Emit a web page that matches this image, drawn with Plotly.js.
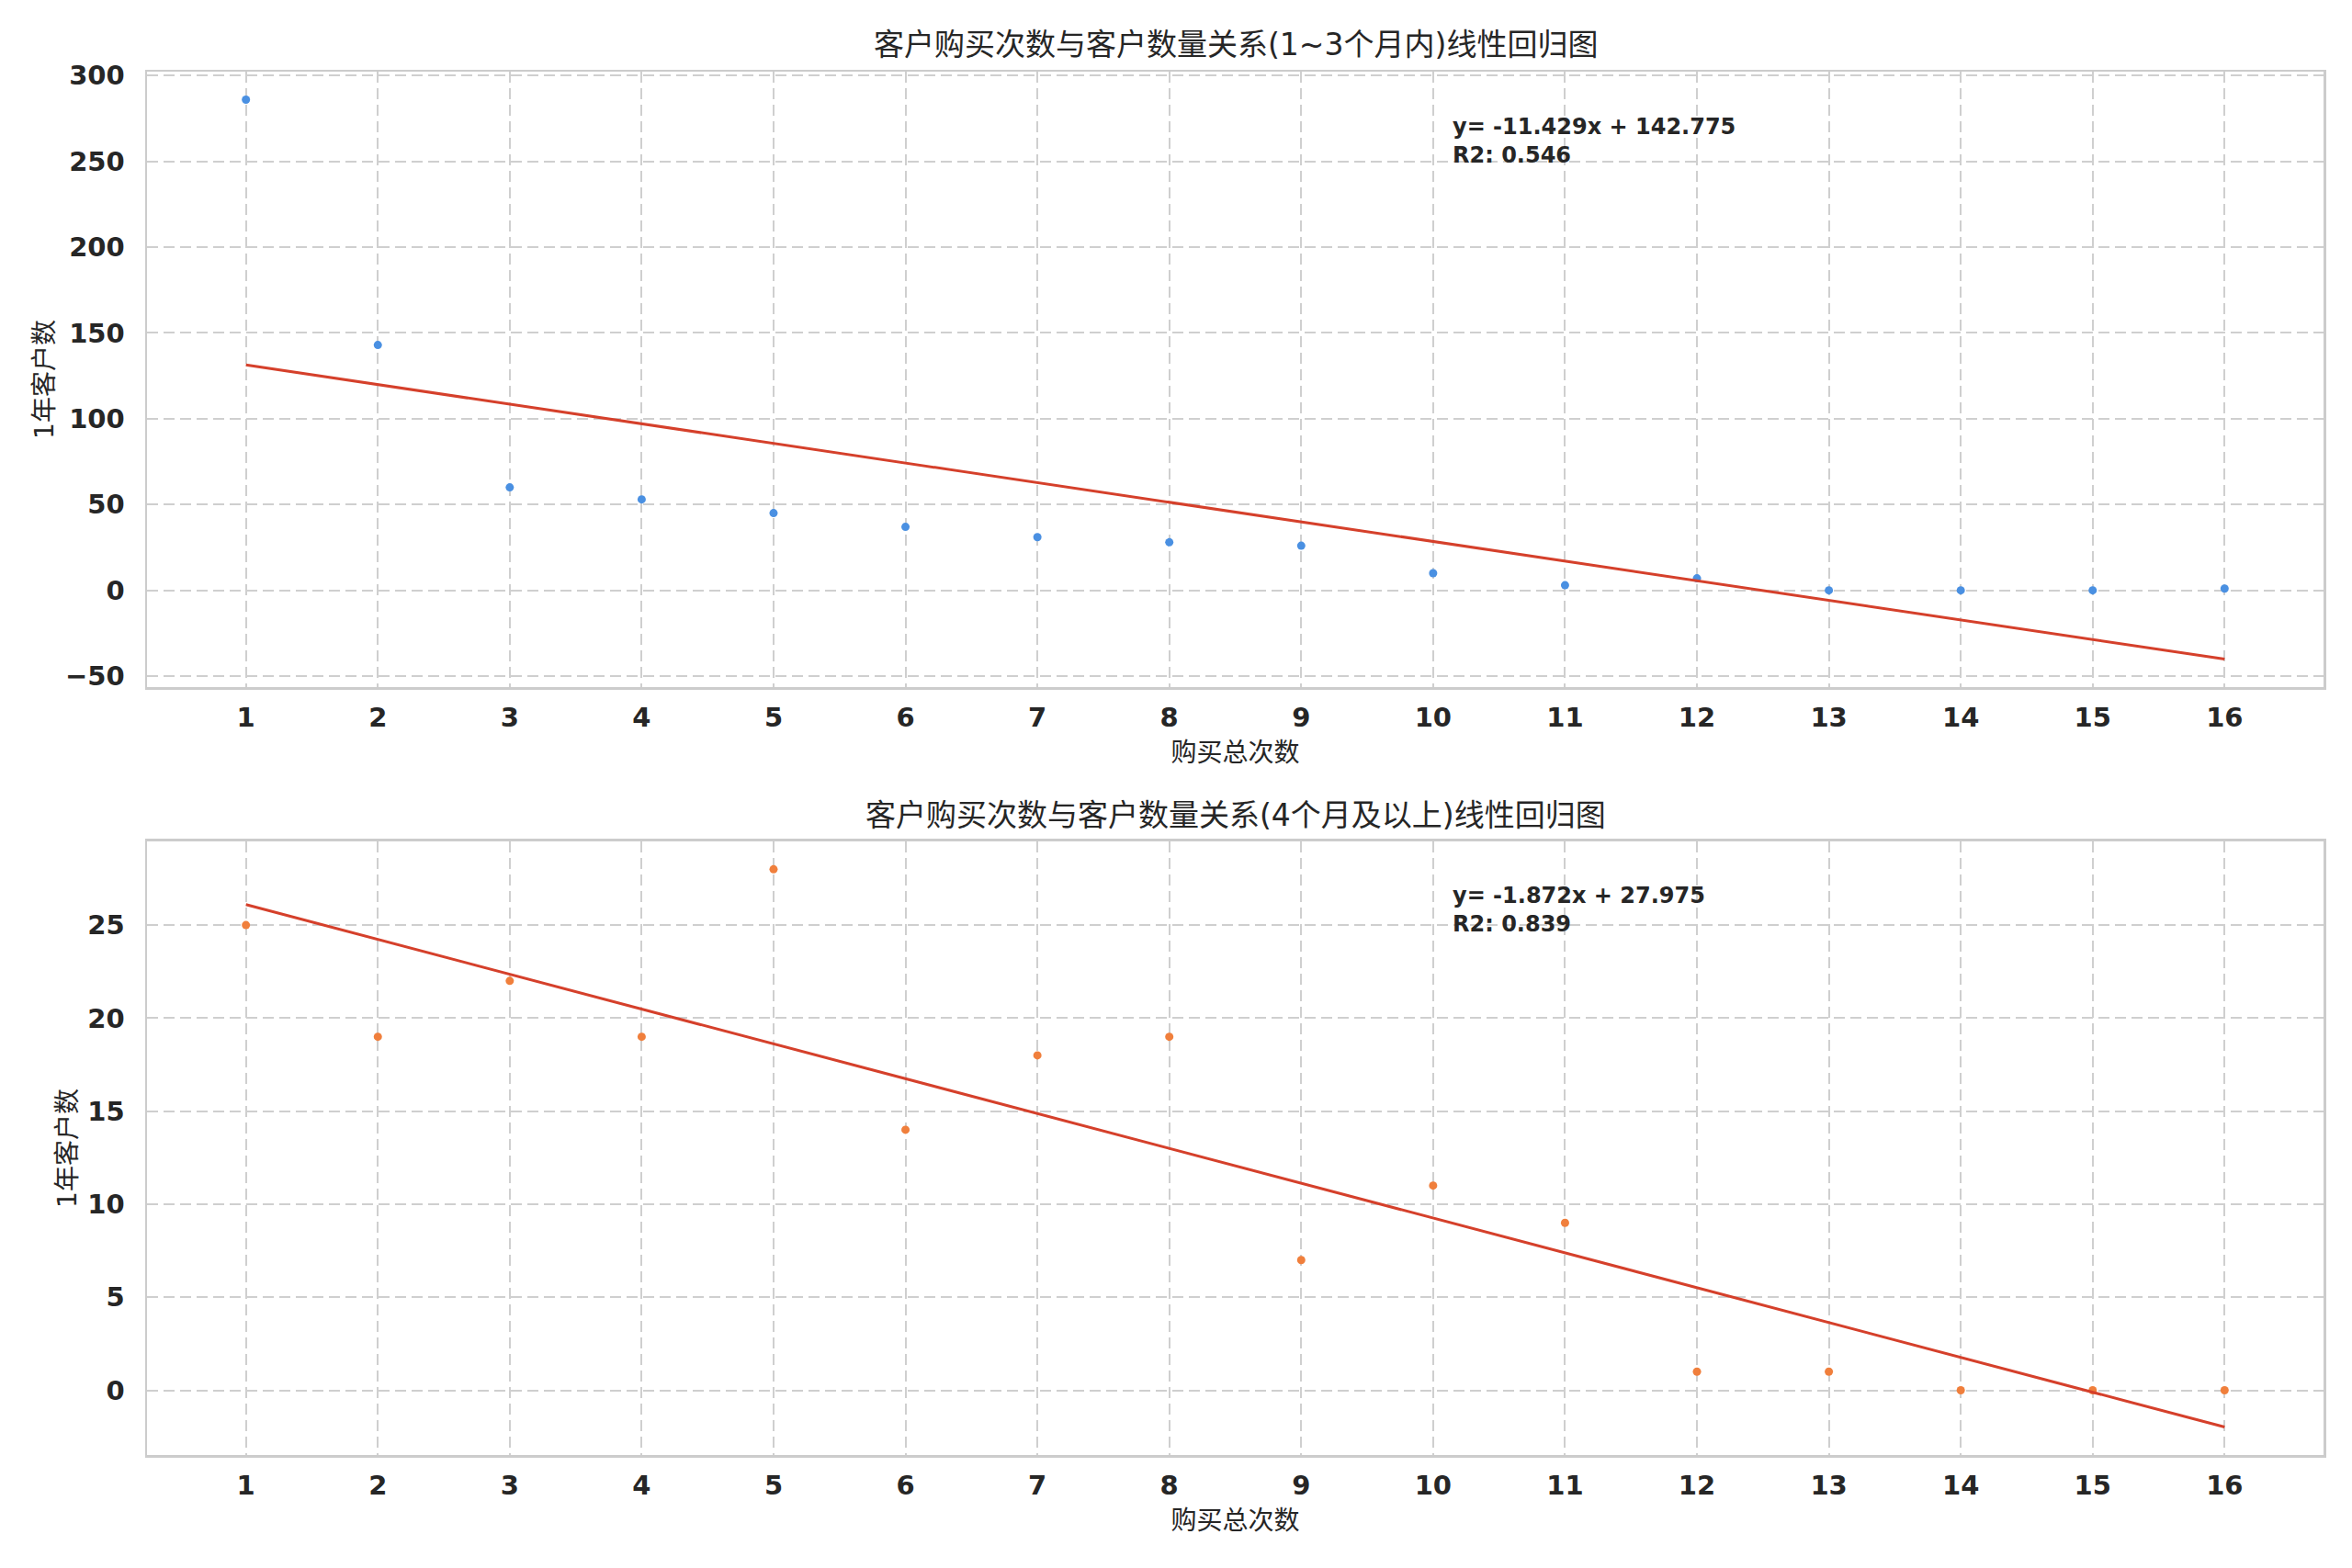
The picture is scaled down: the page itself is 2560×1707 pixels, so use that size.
<!DOCTYPE html>
<html>
<head>
<meta charset="utf-8">
<script src="https://cdn.plot.ly/plotly-3.0.1.min.js"></script>
<style>
  html, body { margin: 0; padding: 0; background: #fff; }
  #graph { width: 2560px; height: 1707px; }
</style>
</head>
<body>
<div id="graph"></div>
<script>
// data
const xPeriods = [1, 2, 3, 4, 5, 6, 7, 8, 9, 10, 11, 12, 13, 14, 15, 16];
const countShort = [286, 143, 60, 53, 45, 37, 31, 28, 26, 10, 3, 7, 0, 0, 0, 1];
const countLong = [25, 19, 22, 19, 28, 14, 18, 19, 7, 11, 9, 1, 1, 0, 0, 0];

// fit coefficients as printed on the chart
const fitShort = [-11.429, 142.775, 0.546]; // slope, intercept, R2
const fitLong = [-1.872, 27.975, 0.839];

const titleShort = '客户购买次数与客户数量关系(1~3个月内)线性回归图';
const titleLong = '客户购买次数与客户数量关系(4个月及以上)线性回归图';
const xLabel = '购买总次数';
const yLabel = '1年客户数';

const textColor = '#262626';
const gridColor = '#cfcfcf';
const tickFont = {family: 'DejaVu Sans', size: 29, color: textColor, weight: 'bold'};
const labelFont = {family: 'DejaVu Sans, Noto Sans CJK SC', size: 28, color: textColor};

function fitLine(fit, xs, ax) {
    const x0 = xs[0], x1 = xs[xs.length - 1];
    return {
        x: [x0, x1],
        y: [fit[0] * x0 + fit[1], fit[0] * x1 + fit[1]],
        mode: 'lines',
        type: 'scatter',
        line: {color: '#d5402b', width: 3},
        xaxis: ax[0], yaxis: ax[1],
        hoverinfo: 'skip'
    };
}

function dots(ys, color, ax) {
    return {
        x: xPeriods,
        y: ys,
        mode: 'markers',
        type: 'scatter',
        marker: {color: color, size: 9},
        xaxis: ax[0], yaxis: ax[1]
    };
}

const data = [
    dots(countShort, '#4a90e2', ['x', 'y']),
    fitLine(fitShort, xPeriods, ['x', 'y']),
    dots(countLong, '#f07f3c', ['x2', 'y2']),
    fitLine(fitLong, xPeriods, ['x2', 'y2'])
];

function xAxis(anchor) {
    return {
        anchor: anchor,
        range: [0.25, 16.75],
        tickvals: xPeriods,
        tickfont: tickFont,
        ticks: '',
        ticklabelstandoff: 6,
        showgrid: true,
        gridcolor: gridColor,
        gridwidth: 2,
        griddash: '12px,6px',
        zeroline: false,
        showline: true,
        mirror: true,
        linecolor: '#cccccc',
        linewidth: 2.5,
        title: {text: xLabel, font: labelFont, standoff: 12}
    };
}

function yAxis(anchor, domain, range, dtick) {
    return {
        anchor: anchor,
        domain: domain,
        range: range,
        dtick: dtick,
        tickfont: tickFont,
        ticks: '',
        ticklabelstandoff: 16,
        showgrid: true,
        gridcolor: gridColor,
        gridwidth: 2,
        griddash: '12px,6px',
        zeroline: false,
        showline: true,
        mirror: true,
        linecolor: '#cccccc',
        linewidth: 2.5,
        title: {text: yLabel, font: labelFont, standoff: 4}
    };
}

function fitNote(fit, xr, yr) {
    return {
        xref: xr, yref: yr,
        x: 0.599, y: 0.935,
        xanchor: 'left', yanchor: 'top', align: 'left',
        showarrow: false,
        text: 'y= ' + fit[0].toFixed(3) + 'x + ' + fit[1].toFixed(3) + '<br>R2: ' + fit[2].toFixed(3),
        font: {family: 'DejaVu Sans', size: 24, color: textColor, weight: 'bold'}
    };
}

const layout = {
    width: 2560,
    height: 1707,
    paper_bgcolor: '#fff',
    plot_bgcolor: '#fff',
    showlegend: false,
    margin: {l: 160, r: 31, t: 78, b: 123},
    xaxis: xAxis('y'),
    yaxis: yAxis('x', [0.5551, 1], [-56.4, 302.3], 50),
    xaxis2: xAxis('y2'),
    yaxis2: yAxis('x2', [0, 0.4436], [-3.48, 29.5], 5),
    annotations: [
        {
            xref: 'paper', yref: 'paper', x: 0.5, y: 1.0193,
            xanchor: 'center', yanchor: 'middle', showarrow: false,
            text: titleShort,
            font: {family: 'DejaVu Sans, Noto Sans CJK SC', size: 33, color: textColor}
        },
        {
            xref: 'paper', yref: 'paper', x: 0.5, y: (1707 - 123 - 887) / 1506,
            xanchor: 'center', yanchor: 'middle', showarrow: false,
            text: titleLong,
            font: {family: 'DejaVu Sans, Noto Sans CJK SC', size: 33, color: textColor}
        },
        fitNote(fitShort, 'x domain', 'y domain'),
        fitNote(fitLong, 'x2 domain', 'y2 domain')
    ]
};

Plotly.newPlot('graph', data, layout, {staticPlot: true});
</script>
</body>
</html>
